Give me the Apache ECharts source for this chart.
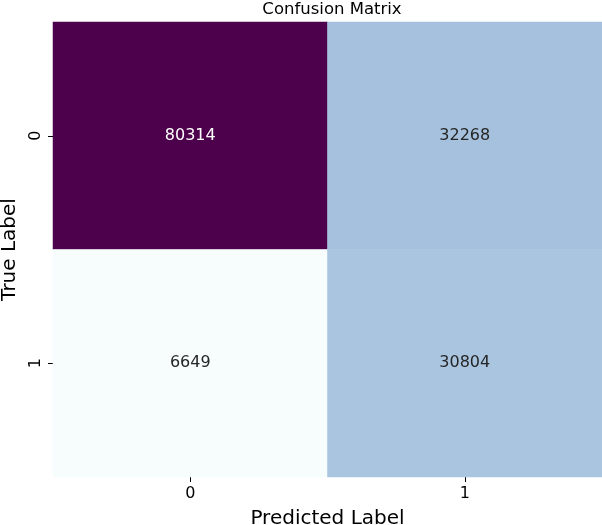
<!DOCTYPE html>
<html>
<head>
<meta charset="utf-8">
<script src="https://cdn.jsdelivr.net/npm/echarts@6/dist/echarts.min.js"></script>
<style>html,body{margin:0;padding:0;background:#fff}#c{width:602px;height:525px}</style>
</head>
<body>
<div id="c"></div>
<script>
var predictedLabels = ['0', '1'];
var trueLabels = ['0', '1'];
// rows: true label, cols: predicted label
var row0 = [80314, 32268];
var row1 = [6649, 30804];
var matrix = [row0, row1];
var buPu = ['#f7fcfd', '#e0ecf4', '#bfd3e6', '#9ebcda', '#8c96c6', '#8c6bb1', '#88419d', '#810f7c', '#4d004b'];

var all = row0.concat(row1);
var vmin = Math.min.apply(null, all), vmax = Math.max.apply(null, all);
var data = [];
for (var r = 0; r < matrix.length; r++) {
  for (var c = 0; c < matrix[r].length; c++) {
    var v = matrix[r][c];
    var t = (v - vmin) / (vmax - vmin);
    data.push({ value: [c, r, v], label: { color: t > 0.5 ? '#ffffff' : '#262626' } });
  }
}
var font = 'DejaVu Sans';
var chart = echarts.init(document.getElementById('c'));
chart.setOption({
  animation: false,
  title: { text: 'Confusion Matrix', left: 327, textAlign: 'center', top: -4,
    textStyle: { fontFamily: font, fontSize: 16.5, fontWeight: 'normal', color: '#000' } },
  grid: { left: 53, right: 0, top: 22, bottom: 48, containLabel: false, outerBoundsMode: 'none' },
  xAxis: {
    type: 'category', data: predictedLabels,
    name: 'Predicted Label', nameLocation: 'middle', nameGap: 32,
    nameTextStyle: { fontFamily: font, fontSize: 20, color: '#000' },
    axisLine: { show: false },
    axisTick: { show: true, alignWithLabel: true, length: 5, lineStyle: { color: '#000' } },
    axisLabel: { fontFamily: font, fontSize: 16, color: '#000', margin: 9 },
    splitArea: { show: false }, splitLine: { show: false }
  },
  yAxis: {
    type: 'category', data: trueLabels, inverse: true,
    name: 'True Label', nameLocation: 'middle', nameGap: 31, nameRotate: 90,
    nameTextStyle: { fontFamily: font, fontSize: 20, color: '#000' },
    axisLine: { show: false },
    axisTick: { show: true, alignWithLabel: true, length: 5, lineStyle: { color: '#000' } },
    axisLabel: { fontFamily: font, fontSize: 16, color: '#000', rotate: 90, margin: 9 },
    splitArea: { show: false }, splitLine: { show: false }
  },
  visualMap: { show: false, min: vmin, max: vmax, dimension: 2, inRange: { color: buPu } },
  series: [{
    type: 'heatmap', data: data,
    label: { show: true, fontFamily: font, fontSize: 16 },
    itemStyle: { borderWidth: 0 },
    emphasis: { disabled: true }
  }]
});
</script>
</body>
</html>
